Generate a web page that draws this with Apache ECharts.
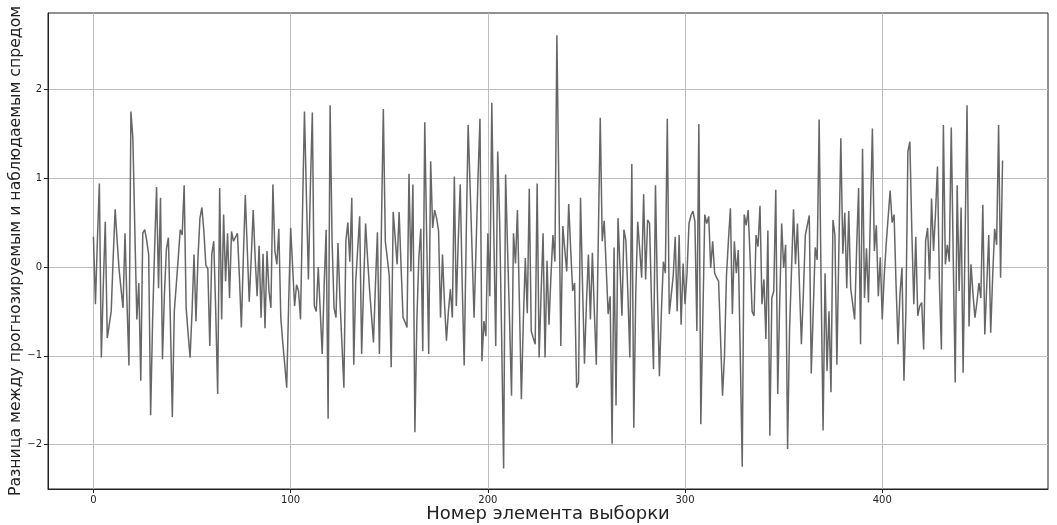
<!DOCTYPE html>
<html>
<head>
<meta charset="utf-8">
<script src="https://cdn.jsdelivr.net/npm/echarts@6/dist/echarts.min.js"></script>
<style>html,body{margin:0;padding:0;background:#fff;}#c{width:1057px;height:525px;}</style>
</head>
<body>
<div id="c"></div>
<script>
const values = [
0.34,-0.42,0.3,0.94,-1.02,-0.2,0.51,-0.8,-0.78,-0.5,
0.1,0.65,0.3,-0.03,-0.25,-0.46,0.38,-0.4,-1.11,1.75,
1.45,0.4,-0.59,-0.18,-1.28,0.38,0.42,0.3,0.14,-1.67,
-0.6,0.2,0.9,-0.24,0.78,-1.04,-0.3,0.2,0.33,-0.6,
-1.69,-0.5,-0.2,0.1,0.42,0.36,0.92,-0.46,-0.75,-1.02,
-0.5,0.14,-0.61,0.1,0.55,0.67,0.4,0.02,-0.02,-0.89,
0.14,0.29,-0.5,-1.43,0.89,-0.59,0.59,-0.16,0.38,-0.35,
0.4,0.29,0.3,0.38,-0.1,-0.68,0.1,0.81,0.2,-0.39,
0.1,0.64,0.1,-0.33,0.24,-0.57,0.15,-0.69,0.18,-0.27,
-0.46,0.93,0.18,0.03,0.43,-0.57,-0.85,-1.1,-1.36,-0.4,
0.44,0.44,-0.44,-0.2,-0.27,-0.59,0.6,1.75,0.8,-0.14,
0.9,1.74,-0.44,-0.5,0.0,-0.5,-0.98,-0.2,0.42,-1.71,
1.82,0.3,-0.46,-0.57,0.27,-0.37,-0.39,-1.36,0.29,0.5,
0.06,0.78,-1.1,-0.16,-0.14,0.57,-0.98,-0.2,0.49,0.1,
-0.25,-0.55,-0.85,-0.2,0.39,-0.98,0.4,1.78,0.29,0.1,
-0.1,-1.13,0.62,0.62,0.03,0.62,0.0,-0.57,-0.62,-0.68,
1.05,-0.05,0.93,-1.86,-0.6,0.1,0.43,-0.95,1.63,0.3,
-0.98,1.19,0.44,0.64,0.55,0.41,-0.57,0.14,-0.4,-0.83,
-0.5,-0.25,-0.57,1.02,-0.44,0.3,0.93,-0.2,-1.11,0.3,
1.6,0.9,0.18,-0.57,0.2,1.0,1.67,-1.06,-0.61,-0.78,
0.38,-0.33,1.85,0.4,-0.89,1.3,0.5,-0.8,-2.27,1.04,
0.2,-0.6,-1.45,0.38,0.04,0.64,-0.4,-1.49,-0.6,0.1,
-0.52,0.88,-0.72,-0.8,-0.87,0.94,-1.02,-0.3,0.38,-1.02,
0.07,-0.65,-0.1,0.36,0.06,2.61,0.9,-0.89,0.46,0.2,
-0.05,0.71,0.2,-0.27,-0.18,-1.36,-1.3,0.78,-0.2,-1.09,
-0.4,0.14,-0.59,0.16,-0.5,-1.1,0.3,1.68,0.29,0.52,
0.0,-0.53,-0.33,-1.99,0.22,-1.56,0.55,0.0,-0.55,0.42,
0.3,-0.3,-1.02,1.16,-1.81,-0.3,0.51,0.2,-0.12,0.82,
-0.14,0.53,0.49,-0.4,-1.15,0.92,-0.3,-1.23,-0.5,0.06,
-0.07,1.67,-0.53,-0.55,-0.1,0.34,-0.5,0.36,-0.65,0.04,
-0.42,-0.07,0.49,0.58,0.63,0.51,-0.72,1.61,-1.77,-0.6,
0.59,0.49,0.57,-0.01,0.29,-0.07,-0.12,-0.16,-0.8,-1.45,
-1.0,-0.1,0.3,0.66,-0.53,0.29,-0.07,0.19,-1.0,-2.25,
0.59,0.47,0.64,0.1,-0.5,-0.55,0.36,0.23,0.69,-0.42,
-0.14,-0.81,0.41,-1.9,-0.35,-0.27,0.87,-1.43,-0.4,0.49,
-0.01,0.25,-2.05,-0.7,-0.7,0.65,0.03,0.49,-0.2,-0.87,
-0.3,0.36,0.38,0.58,-1.2,-0.5,0.22,0.08,1.66,-0.2,
-1.84,-0.07,-1.17,-0.5,-1.41,0.53,0.36,-1.1,0.2,1.45,
0.15,0.61,-0.24,0.63,-0.24,-0.26,-0.59,0.2,0.89,-0.87,
1.33,-0.35,0.21,-0.4,0.6,1.56,0.18,0.47,-0.33,0.11,
-0.59,-0.1,0.26,0.27,0.86,0.5,0.59,-0.2,-0.87,-0.3,
-0.01,-1.28,-0.5,1.3,1.41,0.4,-0.42,0.34,-0.55,-0.44,
-0.4,-0.93,0.29,0.44,-0.14,0.77,0.18,0.6,1.13,-0.2,
-0.93,1.6,0.03,0.25,0.06,1.57,0.1,-1.3,0.92,-0.27,
0.67,-1.19,0.3,1.82,-0.67,0.03,-0.3,-0.57,-0.4,-0.18,
-0.35,0.7,-0.76,-0.2,0.36,-0.74,-0.1,0.43,0.25,1.6,
-0.12,1.2
];
const xTicks = [0, 100, 200, 300, 400];
const yTicks = [-2, -1, 0, 1, 2];
const xTitle = 'Номер элемента выборки';
const yTitle = 'Разница между прогнозируемым и наблюдаемым спредом';

const data = values.map((v, i) => [i, v]);
const chart = echarts.init(document.getElementById('c'), null, {renderer: 'canvas'});
const font = 'DejaVu Sans';
chart.setOption({
  animation: false,
  backgroundColor: '#ffffff',
  grid: {left: 48, right: 9, top: 13, bottom: 36, outerBoundsMode: 'none', containLabel: false,
    show: true, borderColor: '#222', borderWidth: 1, backgroundColor: 'transparent'},
  xAxis: {
    type: 'value', min: -23.05, max: 484.05,
    axisLine: {show: true, onZero: false, lineStyle: {color: '#222', width: 1}},
    axisTick: {show: true, length: 4, lineStyle: {color: '#222'}, customValues: xTicks},
    axisLabel: {customValues: xTicks, color: '#222', fontSize: 10, fontFamily: font, margin: 6},
    splitLine: {show: true, lineStyle: {color: '#bdbdbd', width: 1}},
    name: xTitle, nameLocation: 'middle', nameGap: 16, nameMoveOverlap: false,
    nameTextStyle: {fontSize: 18, fontFamily: font, color: '#222'}
  },
  yAxis: {
    type: 'value', min: -2.50, max: 2.86,
    axisLine: {show: true, onZero: false, lineStyle: {color: '#222', width: 1}},
    axisTick: {show: true, length: 4, lineStyle: {color: '#222'}, customValues: yTicks},
    axisLabel: {customValues: yTicks, color: '#222', fontSize: 10, fontFamily: font, margin: 6,
      formatter: v => (v < 0 ? '\u2212' + Math.abs(v) : String(v))},
    splitLine: {show: true, lineStyle: {color: '#bdbdbd', width: 1}},
    name: yTitle, nameLocation: 'middle', nameGap: 24, nameRotate: 90, nameMoveOverlap: false,
    nameTextStyle: {fontSize: 15.7, fontFamily: font, color: '#222'}
  },
  series: [{
    type: 'line', data: data, showSymbol: false, symbol: 'none',
    lineStyle: {color: '#666666', width: 1.5}, z: 3
  }]
});
</script>
</body>
</html>
